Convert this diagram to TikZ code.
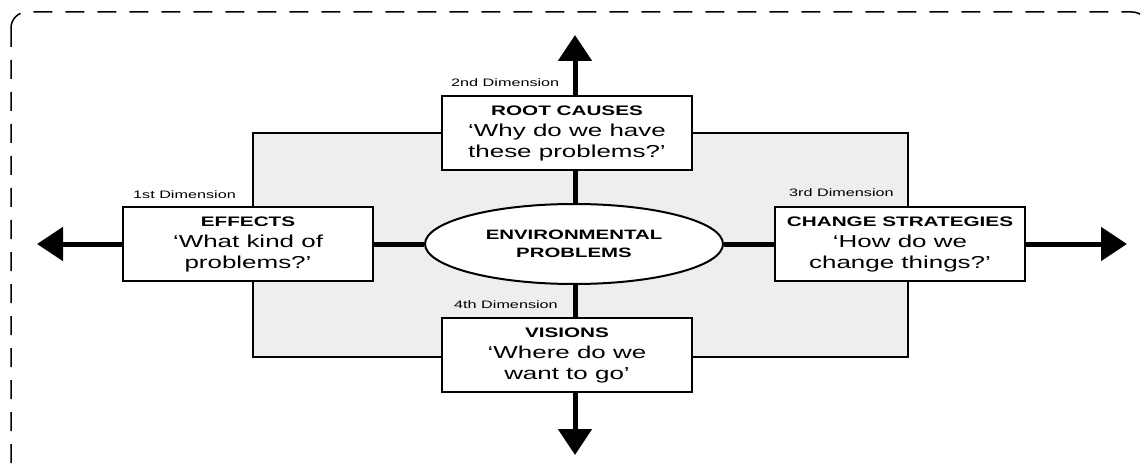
\documentclass[tikz,border=0pt]{standalone}
\usepackage{fontspec}
\setmainfont{Liberation Sans}[FakeStretch=1.5]
\usetikzlibrary{shapes.geometric,arrows.meta,positioning}
\definecolor{panel}{HTML}{EEEEEE}
\newcommand{\dimtitle}[1]{{\bfseries\fontsize{13.8}{21}\selectfont #1}}

\begin{document}
\begin{tikzpicture}[x=1pt,y=-1pt,
  dimbox/.style={draw,line width=2pt,fill=white,minimum width=250pt,minimum height=74pt,
    inner sep=0pt,align=center,font=\fontsize{17.3}{21}\selectfont},
  core/.style={ellipse,draw,line width=2pt,fill=white,minimum width=298pt,minimum height=80pt,
    inner sep=0pt,align=center,font=\fontsize{13.6}{18.5}\selectfont\bfseries},
  dimlabel/.style={font=\fontsize{10.8}{13}\selectfont,inner sep=0pt,anchor=base west},
  axis/.style={line width=5pt},
  outward/.style={axis,-{Triangle[length=26pt,width=33pt]}}]
\useasboundingbox (0,0) rectangle (1143,473);
\draw[line width=1.5pt,dash pattern=on 19pt off 13pt,rounded corners=16pt] (11,12) rectangle (1148,482);
\filldraw[fill=panel,line width=1.5pt] (253,133) rectangle (908,357);

\node[core] (env) at (574,244) {ENVIRONMENTAL\\PROBLEMS};
\node[dimbox] (root) at (567,133) {\dimtitle{ROOT CAUSES}\\`Why do we have\\these problems?'};
\node[dimbox] (effects) at (248,244) {\dimtitle{EFFECTS}\\`What kind of\\problems?'};
\node[dimbox] (change) at (900,244) {\dimtitle{CHANGE STRATEGIES}\\`How do we\\change things?'};
\node[dimbox] (visions) at (567,355) {\dimtitle{VISIONS}\\`Where do we\\want to go'};

\node[dimlabel] (dim1) at ([xshift=11pt,yshift=7pt]effects.north west) {1st Dimension};
\node[dimlabel] (dim2) at ([xshift=10pt,yshift=8pt]root.north west) {2nd Dimension};
\node[dimlabel] (dim3) at ([xshift=15pt,yshift=9pt]change.north west) {3rd Dimension};
\node[dimlabel] (dim4) at ([xshift=13pt,yshift=9pt]visions.north west) {4th Dimension};

% axes and arrow ends
\coordinate (tipN) at (575,35);
\coordinate (tipS) at (575,455);
\coordinate (tipW) at (37,244);
\coordinate (tipE) at (1127,244);
\draw[axis] (effects) -- (env);
\draw[axis] (env) -- (change);
\draw[axis] (env.north -| tipN) -- (root.south -| tipN);
\draw[axis] (env.south -| tipS) -- (visions.north -| tipS);
\draw[outward] (effects.west) -- (tipW);
\draw[outward] (change.east) -- (tipE);
\draw[outward] (root.north -| tipN) -- (tipN);
\draw[outward] (visions.south -| tipS) -- (tipS);
\end{tikzpicture}
\end{document}
